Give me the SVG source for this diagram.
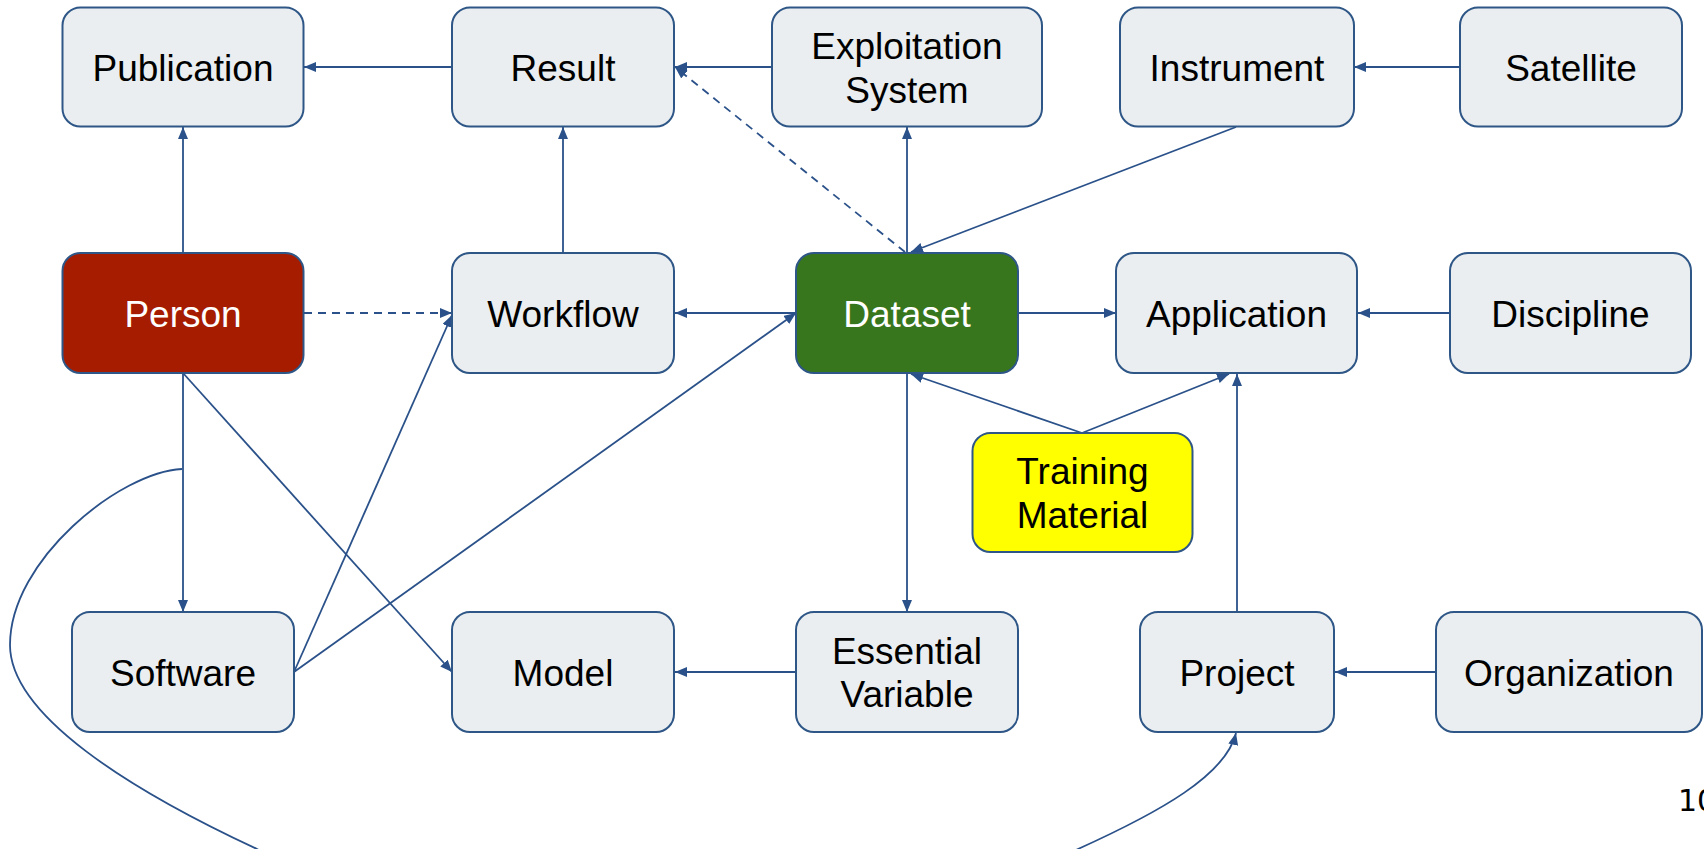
<svg xmlns="http://www.w3.org/2000/svg" width="1704" height="849" viewBox="0 0 1704 849">
  <defs>
    <marker id="arrow" markerUnits="userSpaceOnUse" markerWidth="14" markerHeight="12" refX="12" refY="5" orient="auto">
      <path d="M0,0 L12,5 L0,10 z" fill="#2a5189"/>
    </marker>
    <style>
      .node rect { fill: #eaeef0; stroke: #2e5686; stroke-width: 2; }
      .node text { font-family: "Liberation Sans", Arial, sans-serif; font-size: 37px; fill: #000; text-anchor: middle; }
      #person rect { fill: #a61c00; }
      #dataset rect { fill: #38761d; }
      #training rect { fill: #ffff00; }
      #person text, #dataset text { fill: #ffffff; }
      .edges path { fill: none; stroke: #2a5189; stroke-width: 1.8; }
      .edges .arr { marker-end: url(#arrow); }
      .edges .dash { stroke-dasharray: 8 6; }
    </style>
  </defs>

  <rect x="0" y="0" width="1704" height="849" fill="#ffffff"/>

  <!-- connectors -->
  <g class="edges" id="edges">
    <path class="arr" d="M452,67 L304,67"/>
    <path class="arr" d="M183,253 L183,127"/>
    <path class="arr" d="M563,253 L563,127"/>
    <path class="arr" d="M772,67 L675,67"/>
    <path class="arr dash" d="M905,252 L675,67"/>
    <path class="arr" d="M907,253 L907,127"/>
    <path class="arr" d="M1236,127 L911,252"/>
    <path class="arr" d="M1460,67 L1354,67"/>
    <path class="arr dash" d="M304,313 L452,313"/>
    <path class="arr" d="M796,313 L675,313"/>
    <path class="arr" d="M1018,313 L1116,313"/>
    <path class="arr" d="M1450,313 L1358,313"/>
    <path class="arr" d="M1082,433 L911,374"/>
    <path class="arr" d="M1082,433 L1229,374"/>
    <path class="arr" d="M1237,612 L1237,374"/>
    <path class="arr" d="M907,373 L907,612"/>
    <path class="arr" d="M796,672 L675,672"/>
    <path class="arr" d="M1436,672 L1335,672"/>
    <path class="arr" d="M183,373 L183,612"/>
    <path class="arr" d="M183,373 L452,672"/>
    <path class="arr" d="M294,672 L452,315"/>
    <path class="arr" d="M294,672 L796,313"/>
    <path class="arr" d="M182,469 C120,472 10,560 10,645 C10,715 130,790 257,849 C400,922 950,910 1078,849 C1160,812 1226,775 1236,733"/>
  </g>

  <!-- top row -->
  <g class="node" id="publication">
    <rect x="62.5" y="7.5" width="241" height="119" rx="18"/>
    <text x="183" y="80.5">Publication</text>
  </g>
  <g class="node" id="result">
    <rect x="452" y="7.5" width="222" height="119" rx="18"/>
    <text x="563" y="80.5">Result</text>
  </g>
  <g class="node" id="exploitation">
    <rect x="772" y="7.5" width="270" height="119" rx="18"/>
    <text x="907" y="59">Exploitation</text>
    <text x="907" y="103">System</text>
  </g>
  <g class="node" id="instrument">
    <rect x="1120" y="7.5" width="234" height="119" rx="18"/>
    <text x="1237" y="80.5">Instrument</text>
  </g>
  <g class="node" id="satellite">
    <rect x="1460" y="7.5" width="222" height="119" rx="18"/>
    <text x="1571" y="80.5">Satellite</text>
  </g>

  <!-- middle row -->
  <g class="node" id="person">
    <rect x="62.5" y="253" width="241" height="120" rx="18"/>
    <text x="183" y="326.5">Person</text>
  </g>
  <g class="node" id="workflow">
    <rect x="452" y="253" width="222" height="120" rx="18"/>
    <text x="563" y="326.5">Workflow</text>
  </g>
  <g class="node" id="dataset">
    <rect x="796" y="253" width="222" height="120" rx="18"/>
    <text x="907" y="326.5">Dataset</text>
  </g>
  <g class="node" id="application">
    <rect x="1116" y="253" width="241" height="120" rx="18"/>
    <text x="1236.5" y="326.5">Application</text>
  </g>
  <g class="node" id="discipline">
    <rect x="1450" y="253" width="241" height="120" rx="18"/>
    <text x="1570.5" y="326.5">Discipline</text>
  </g>

  <g class="node" id="training">
    <rect x="972.5" y="433" width="220" height="119" rx="18"/>
    <text x="1082.5" y="484">Training</text>
    <text x="1082.5" y="528">Material</text>
  </g>

  <!-- bottom row -->
  <g class="node" id="software">
    <rect x="72" y="612" width="222" height="120" rx="18"/>
    <text x="183" y="685.5">Software</text>
  </g>
  <g class="node" id="model">
    <rect x="452" y="612" width="222" height="120" rx="18"/>
    <text x="563" y="685.5">Model</text>
  </g>
  <g class="node" id="essential-variable">
    <rect x="796" y="612" width="222" height="120" rx="18"/>
    <text x="907" y="664">Essential</text>
    <text x="907" y="707">Variable</text>
  </g>
  <g class="node" id="project">
    <rect x="1140" y="612" width="194" height="120" rx="18"/>
    <text x="1237" y="685.5">Project</text>
  </g>
  <g class="node" id="organization">
    <rect x="1436" y="612" width="266" height="120" rx="18"/>
    <text x="1569" y="685.5">Organization</text>
  </g>

  <!-- page number -->
  <text x="1678" y="811" font-family="DejaVu Sans, sans-serif" font-size="30" fill="#000">10</text>
</svg>
